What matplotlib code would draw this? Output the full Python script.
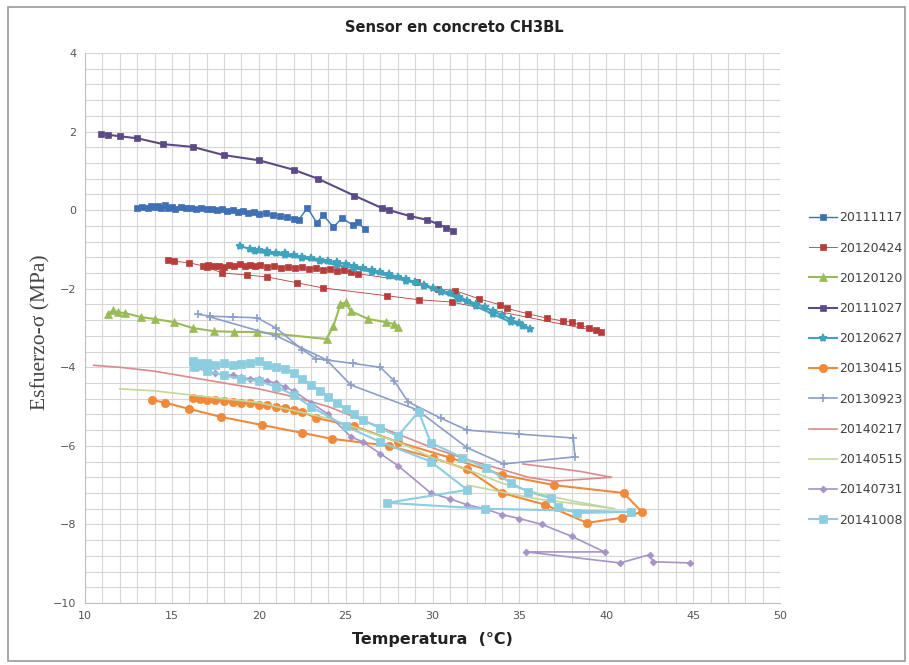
import numpy as np
import matplotlib
matplotlib.use('Agg')
import matplotlib.pyplot as plt
from matplotlib.patches import Rectangle

# series (temperature in C, stress in MPa)
x_20111117 = [13.0, 13.3, 13.6, 13.8, 14.0, 14.2, 14.4, 14.6, 14.8, 15.0, 15.2, 15.5, 15.8, 16.1, 16.4, 16.7,
              17.0, 17.3, 17.6, 17.9, 18.2, 18.5, 18.8, 19.1, 19.4, 19.7, 20.0, 20.4, 20.8, 21.2, 21.6, 22.0,
              22.3, 22.8, 23.35, 23.7, 24.3, 24.8, 25.4, 25.7, 26.1]
y_20111117 = [0.05, 0.08, 0.06, 0.1, 0.07, 0.1, 0.05, 0.14, 0.06, 0.08, 0.04, 0.07, 0.05, 0.06, 0.03, 0.05,
              0.02, 0.04, 0.0, 0.02, -0.01, 0.0, -0.04, -0.03, -0.06, -0.05, -0.1, -0.08, -0.12, -0.15, -0.18, -0.22,
              -0.25, 0.06, -0.33, -0.12, -0.43, -0.2, -0.38, -0.3, -0.48]

x_20120424 = [14.8, 15.1, 16.0, 16.8, 17.1, 17.4, 17.7, 18.0, 18.3, 18.6, 18.9, 19.2, 19.5, 19.8, 20.1, 20.5,
              20.9, 21.3, 21.7, 22.1, 22.5, 22.9, 23.3, 23.7, 24.1, 24.5, 24.9, 25.3, 25.7, 29.1, 30.3, 31.3,
              32.7, 33.9, 34.3, 35.5, 36.6, 37.5, 38.0, 38.5, 39.0, 39.4, 39.7, 31.1, 29.2, 27.4, 23.7, 22.2,
              20.5, 19.3, 17.9, 17.0]
y_20120424 = [-1.27, -1.3, -1.34, -1.42, -1.4, -1.43, -1.41, -1.44, -1.4, -1.42, -1.38, -1.43, -1.4, -1.42, -1.39, -1.45,
              -1.42, -1.47, -1.44, -1.48, -1.45, -1.5, -1.47, -1.52, -1.5, -1.55, -1.53, -1.58, -1.62, -1.83, -2.0, -2.05,
              -2.26, -2.41, -2.5, -2.64, -2.75, -2.82, -2.85, -2.93, -3.0, -3.05, -3.1, -2.34, -2.28, -2.18, -1.98, -1.85,
              -1.7, -1.65, -1.6, -1.45]

x_20120120 = [11.3, 11.6, 11.9, 12.3, 13.2, 14.0, 15.1, 16.2, 17.4, 18.6, 19.9, 23.9, 24.3, 24.7, 25.0, 25.3,
              26.3, 27.3, 27.8, 28.0]
y_20120120 = [-2.65, -2.55, -2.6, -2.62, -2.72, -2.77, -2.85, -3.0, -3.08, -3.1, -3.1, -3.28, -2.95, -2.39, -2.35, -2.57,
              -2.77, -2.85, -2.9, -2.97]

x_20111027 = [10.9, 11.3, 12.0, 13.0, 14.5, 16.2, 18.0, 20.0, 22.0, 23.4, 25.5, 27.1, 27.5, 28.7, 29.7, 30.3,
              30.8, 31.2]
y_20111027 = [1.93, 1.92, 1.88, 1.83, 1.68, 1.61, 1.4, 1.27, 1.03, 0.8, 0.37, 0.05, 0.0, -0.15, -0.25, -0.35,
              -0.45, -0.52]

x_20120627 = [18.9, 19.5, 20.0, 20.5, 21.0, 21.5, 22.0, 22.5, 23.0, 23.5, 24.0, 24.5, 25.0, 25.5, 26.0, 26.5,
              27.0, 27.5, 28.0, 28.5, 29.0, 29.5, 30.0, 30.5, 31.0, 31.5, 32.0, 32.5, 33.0, 33.5, 34.0, 34.5,
              35.0, 35.6, 35.2, 34.5, 33.5, 32.5, 31.5, 30.5, 29.5, 28.5, 27.5, 26.5, 25.5, 24.5, 23.5, 22.5,
              21.5, 20.5, 19.8]
y_20120627 = [-0.92, -0.98, -1.02, -1.05, -1.08, -1.1, -1.15, -1.18, -1.22, -1.26, -1.3, -1.33, -1.37, -1.42, -1.48, -1.52,
              -1.58, -1.63, -1.7, -1.76, -1.83, -1.9, -1.98, -2.05, -2.12, -2.2, -2.3, -2.38, -2.47, -2.57, -2.67, -2.78,
              -2.88, -3.02, -2.95, -2.85, -2.65, -2.45, -2.25, -2.08, -1.92, -1.8, -1.68, -1.57, -1.48, -1.4, -1.3, -1.22,
              -1.15, -1.1, -1.05]

x_20130415 = [13.85, 14.6, 16.0, 17.8, 20.2, 22.5, 24.2, 27.5, 30.0, 32.0, 34.0, 36.5, 38.9, 40.9, 42.05, 41.0,
              37.0, 34.0, 31.0, 28.0, 25.5, 23.3, 22.5, 22.0, 21.5, 21.0, 20.5, 20.0, 19.5, 19.0, 18.5, 18.0,
              17.5, 17.0, 16.6, 16.2]
y_20130415 = [-4.83, -4.9, -5.06, -5.26, -5.47, -5.67, -5.82, -6.0, -6.3, -6.6, -7.2, -7.5, -7.96, -7.83, -7.68, -7.2,
              -7.0, -6.74, -6.3, -5.9, -5.5, -5.29, -5.13, -5.08, -5.03, -5.0, -4.97, -4.95, -4.92, -4.9, -4.88, -4.86,
              -4.84, -4.82, -4.8, -4.78]

x_20130923 = [16.5, 17.2, 18.5, 19.9, 21.0, 22.5, 23.3, 25.4, 27.0, 27.8, 28.6, 30.5, 32.0, 35.0, 38.1, 38.2,
              34.1, 32.0, 29.1, 25.3, 23.9, 21.0, 17.2]
y_20130923 = [-2.65, -2.7, -2.72, -2.74, -3.0, -3.55, -3.78, -3.9, -4.0, -4.35, -4.88, -5.3, -5.6, -5.7, -5.8, -6.28,
              -6.46, -6.05, -5.08, -4.45, -3.81, -3.2, -2.72]

x_20140217 = [10.5, 12.0, 14.0, 16.0, 18.0, 20.0, 22.0, 24.0, 26.0, 28.0, 30.0, 32.0, 34.0, 35.5, 37.0, 40.3,
              38.5, 35.2]
y_20140217 = [-3.95, -4.0, -4.1, -4.25, -4.4, -4.55, -4.75, -5.0, -5.35, -5.7, -6.05, -6.35, -6.6, -6.8, -6.9, -6.8,
              -6.65, -6.46]

x_20140515 = [12.0, 14.0, 16.0, 18.0, 20.0, 22.0, 24.0, 26.0, 28.0, 30.0, 32.0, 34.0, 36.0, 38.0, 40.5, 36.0,
              32.0]
y_20140515 = [-4.55, -4.6, -4.7, -4.8, -4.9, -5.1, -5.3, -5.6, -5.9, -6.3, -6.6, -6.95, -7.2, -7.4, -7.6, -7.35,
              -7.0]

x_20140731 = [16.5, 17.0, 17.5, 18.0, 18.5, 19.0, 19.5, 20.0, 20.5, 21.0, 21.5, 22.0, 23.0, 24.0, 25.3, 26.0,
              27.0, 28.0, 29.9, 31.0, 32.0, 33.0, 34.0, 35.0, 36.3, 38.0, 39.9, 35.4, 40.8, 42.5, 42.7, 44.8]
y_20140731 = [-4.0, -4.1, -4.15, -4.2, -4.2, -4.25, -4.3, -4.3, -4.35, -4.4, -4.5, -4.6, -4.9, -5.2, -5.77, -5.9,
              -6.2, -6.5, -7.2, -7.35, -7.5, -7.6, -7.75, -7.85, -8.0, -8.3, -8.7, -8.7, -8.98, -8.77, -8.95, -8.98]

x_20141008 = [16.2, 16.6, 17.0, 17.5, 18.0, 18.5, 19.0, 19.5, 20.0, 20.5, 21.0, 21.5, 22.0, 22.5, 23.0, 23.5,
              24.0, 24.5, 25.0, 25.5, 26.0, 27.0, 28.0, 29.2, 29.9, 31.7, 33.1, 34.5, 35.5, 36.8, 37.2, 38.3,
              41.4, 33.0, 27.4, 32.0, 29.9, 27.0, 25.0, 23.0, 22.0, 21.0, 20.0, 19.0, 18.0, 17.0, 16.3]
y_20141008 = [-3.85, -3.9, -3.88, -3.95, -3.9, -3.95, -3.92, -3.9, -3.85, -3.95, -4.0, -4.05, -4.15, -4.3, -4.45, -4.6,
              -4.75, -4.9, -5.05, -5.2, -5.35, -5.55, -5.75, -5.13, -5.92, -6.3, -6.56, -6.94, -7.17, -7.33, -7.55, -7.71,
              -7.68, -7.6, -7.45, -7.12, -6.4, -5.9, -5.5, -5.0, -4.7, -4.5, -4.35, -4.3, -4.2, -4.1, -4.0]

# label, x, y, color, marker, markersize, linewidth
series = [
    ('20111117', x_20111117, y_20111117, '#3f6fb5', 's', 4.5, 1.0),
    ('20120424', x_20120424, y_20120424, '#b83c3a', 's', 4.5, 0.6),
    ('20120120', x_20120120, y_20120120, '#9bbb59', '^', 6, 1.5),
    ('20111027', x_20111027, y_20111027, '#5b4a86', 's', 5, 1.5),
    ('20120627', x_20120627, y_20120627, '#3fa3bf', '*', 6, 1.5),
    ('20130415', x_20130415, y_20130415, '#f08a3a', 'o', 6, 1.5),
    ('20130923', x_20130923, y_20130923, '#8c9fc8', '+', 6, 1.2),
    ('20140217', x_20140217, y_20140217, '#d98a8c', '', 0, 1.2),
    ('20140515', x_20140515, y_20140515, '#c3d69b', '', 0, 1.2),
    ('20140731', x_20140731, y_20140731, '#a694c6', 'D', 3.5, 1.2),
    ('20141008', x_20141008, y_20141008, '#8ccde0', 's', 6, 1.5),
]

fig = plt.figure(figsize=(9.09, 6.65), dpi=100)
ax = fig.add_axes([85/909, 62/665, 695/909, 550/665])

for name, xs, ys, col, mk, ms, lw in series:
    ax.plot(xs, ys, color=col, marker=mk if mk else None, markersize=ms,
            linewidth=lw, label=name, markeredgewidth=1.2 if mk in ('+', '*') else 0.5)

ax.set_xlim(10, 50)
ax.set_ylim(-10, 4)
ax.set_xticks(np.arange(10, 51, 5))
ax.set_yticks(np.arange(-10, 5, 2))
ax.set_xticks(np.arange(10, 51, 1), minor=True)
ax.set_yticks(np.arange(-10, 4.01, 0.4), minor=True)
ax.grid(which='both', color='#d6d6d6', linewidth=0.8)
ax.set_axisbelow(True)
ax.tick_params(which='both', length=0, labelsize=8, labelcolor='#555555', pad=6)
for s in ['top', 'right']:
    ax.spines[s].set_visible(False)
for s in ['left', 'bottom']:
    ax.spines[s].set_color('#bfbfbf')

fig.text(0.5, 1 - 28/665, 'Sensor en concreto CH3BL', ha='center', va='center',
         fontsize=10.5, fontweight='bold', color='#222222')
ax.set_xlabel('Temperatura  (°C)', fontsize=11.5, fontweight='bold', color='#222222', labelpad=8)
fig.text(41/909, 1 - 332/665, 'Esfuerzo-σ (MPa)', rotation=90, ha='center', va='center',
         fontsize=15.5, family='Liberation Serif', color='#444444')

fig.legend(loc='upper left', bbox_to_anchor=(798/909, 1 - 200/665), frameon=False,
           fontsize=9, labelspacing=1.38, handlelength=2.2, handletextpad=0.2,
           labelcolor='#404040')

fig.patches.append(Rectangle((8/909, 4/665), 1 - 12/909, 1 - 11/665, transform=fig.transFigure,
                             fill=False, edgecolor='#9a9a9a', linewidth=1.2))

fig.savefig('out.png', dpi=100)
